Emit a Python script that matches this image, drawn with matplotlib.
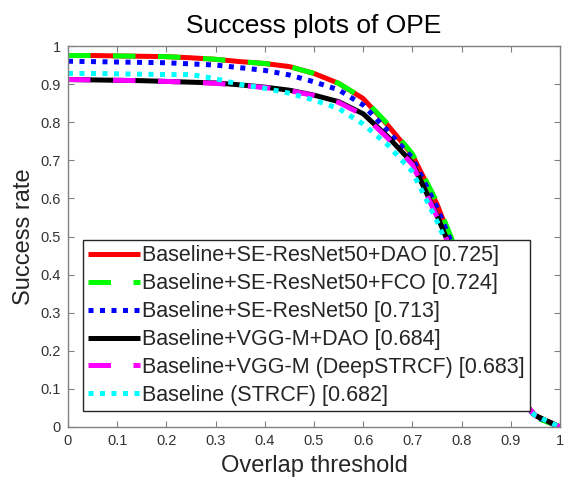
import numpy as np
import matplotlib
matplotlib.use("Agg")
import matplotlib.pyplot as plt

plt.rcParams['font.family'] = ['Liberation Sans', 'DejaVu Sans']

thresholds = [0.00, 0.05, 0.10, 0.15, 0.20, 0.25, 0.30, 0.35, 0.40, 0.45, 0.50,
              0.55, 0.60, 0.65, 0.70, 0.75, 0.80, 0.85, 0.90, 0.95, 1.00]

se_dao = [0.975, 0.975, 0.974, 0.973, 0.972, 0.969, 0.965, 0.959, 0.954, 0.946, 0.928,
          0.902, 0.862, 0.792, 0.714, 0.585, 0.42, 0.24, 0.10, 0.03, 0.0]
se_fco = [0.975, 0.975, 0.974, 0.973, 0.972, 0.969, 0.965, 0.959, 0.954, 0.946, 0.928,
          0.902, 0.863, 0.795, 0.717, 0.590, 0.43, 0.24, 0.09, 0.025, 0.0]
se_base = [0.960, 0.959, 0.958, 0.957, 0.956, 0.953, 0.950, 0.943, 0.936, 0.924, 0.906,
           0.885, 0.845, 0.777, 0.706, 0.576, 0.42, 0.24, 0.10, 0.028, 0.0]
vgg_dao = [0.912, 0.911, 0.910, 0.909, 0.907, 0.905, 0.903, 0.898, 0.892, 0.884, 0.871,
           0.854, 0.822, 0.762, 0.693, 0.555, 0.40, 0.23, 0.10, 0.03, 0.0]
vgg_base = [0.912, 0.911, 0.910, 0.909, 0.907, 0.905, 0.902, 0.897, 0.891, 0.883, 0.870,
            0.852, 0.819, 0.758, 0.689, 0.552, 0.40, 0.23, 0.10, 0.03, 0.0]
strcf = [0.928, 0.928, 0.927, 0.926, 0.925, 0.925, 0.914, 0.899, 0.889, 0.876, 0.858,
         0.836, 0.795, 0.740, 0.670, 0.540, 0.39, 0.22, 0.09, 0.03, 0.0]

labels = ['Baseline+SE-ResNet50+DAO [0.725]',
          'Baseline+SE-ResNet50+FCO [0.724]',
          'Baseline+SE-ResNet50 [0.713]',
          'Baseline+VGG-M+DAO [0.684]',
          'Baseline+VGG-M (DeepSTRCF) [0.683]',
          'Baseline (STRCF) [0.682]']
series = [se_dao, se_fco, se_base, vgg_dao, vgg_base, strcf]
colors = ['#ff0000', '#00ff00', '#0000ff', '#000000', '#ff00ff', '#00ffff']
styles = [(None), (0, (4.5, 4.5)), (0, (1.0, 1.3)), (None), (0, (4.5, 4.5)), (0, (1.0, 1.3))]

xticks = [0, 0.1, 0.2, 0.3, 0.4, 0.5, 0.6, 0.7, 0.8, 0.9, 1]
xticklabels = ['0', '0.1', '0.2', '0.3', '0.4', '0.5', '0.6', '0.7', '0.8', '0.9', '1']

fig = plt.figure(figsize=(5.66, 4.79), dpi=100)
ax = fig.add_axes([68/566, 1-427/479, (560-68)/566, (427-46)/479])

for y, c, s, lab in zip(series, colors, styles, labels):
    kw = dict(color=c, linewidth=3.6, label=lab, solid_capstyle='butt', dash_capstyle='butt')
    if s is None:
        ax.plot(thresholds, y, linestyle='-', **kw)
    else:
        ax.plot(thresholds, y, linestyle=s, **kw)

ax.set_xlim(0, 1)
ax.set_ylim(0, 1)
ax.set_xticks(xticks)
ax.set_xticklabels(xticklabels)
ax.set_yticks(xticks)
ax.set_yticklabels(xticklabels)

axcol = '#808080'
txtcol = '#262626'
for sp in ax.spines.values():
    sp.set_color(axcol)
    sp.set_linewidth(1.0)
ax.tick_params(direction='in', top=True, right=True, length=4, width=0.8,
               color=axcol, labelcolor='#333333', labelsize=10.5, pad=5)

ax.set_title('Success plots of OPE', fontsize=19, color='black', pad=9)
ax.set_xlabel('Overlap threshold', fontsize=17, color=txtcol, labelpad=5)
ax.set_ylabel('Success rate', fontsize=17, color=txtcol, labelpad=4)

leg = ax.legend(loc='upper left', bbox_to_anchor=(15/492, (427-240)/381),
                borderaxespad=0, fontsize=15.5, fancybox=False, framealpha=1,
                edgecolor='#262626', handlelength=2.4, handletextpad=0.1,
                labelspacing=0.32, borderpad=0.25)
leg.get_frame().set_linewidth(1.0)
for t in leg.get_texts():
    t.set_color(txtcol)

fig.savefig('out.png', dpi=100)
